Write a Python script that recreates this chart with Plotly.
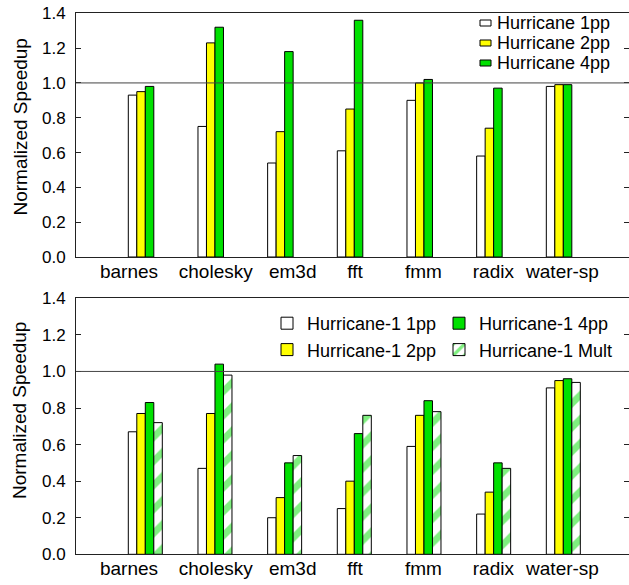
import plotly.graph_objects as go

# ---------------- data ----------------
categories = ["barnes", "cholesky", "em3d", "fft", "fmm", "radix", "water-sp"]

top_names = ["Hurricane 1pp", "Hurricane 2pp", "Hurricane 4pp"]
top_1pp = [0.93, 0.75, 0.54, 0.61, 0.90, 0.58, 0.98]
top_2pp = [0.95, 1.23, 0.72, 0.85, 1.00, 0.74, 0.99]
top_4pp = [0.98, 1.32, 1.18, 1.36, 1.02, 0.97, 0.99]

bot_names = ["Hurricane-1 1pp", "Hurricane-1 2pp", "Hurricane-1 4pp", "Hurricane-1 Mult"]
bot_1pp = [0.67, 0.47, 0.20, 0.25, 0.59, 0.22, 0.91]
bot_2pp = [0.77, 0.77, 0.31, 0.40, 0.76, 0.34, 0.95]
bot_4pp = [0.83, 1.04, 0.50, 0.66, 0.84, 0.50, 0.96]
bot_mult = [0.72, 0.98, 0.54, 0.76, 0.78, 0.47, 0.94]

y_ticks = [0.0, 0.2, 0.4, 0.6, 0.8, 1.0, 1.2, 1.4]
y_tick_labels = ["0.0", "0.2", "0.4", "0.6", "0.8", "1.0", "1.2", "1.4"]
y_title = "Normalized Speedup"
ref_value = 1.0

# ---------------- style / layout ----------------
W, H = 629, 585


def px(xp):  # window pixel x -> paper fraction
    return xp / W


def py(yp):  # window pixel y -> paper fraction
    return 1 - yp / H


FONT = "Liberation Sans, Arial, Helvetica, sans-serif"
WHITE, YELLOW, GREEN = "#ffffff", "#ffff00", "#00e000"
top_colors = [WHITE, YELLOW, GREEN]
BW = 0.122                       # bar width in group units
X_RANGE = [-0.7507, 7.1868]
label_pos = [0.01, 1.255, 2.36, 3.254, 4.235, 5.24, 6.232]  # tick label positions
idx = list(range(len(categories)))

fig = go.Figure()

top_series = [top_1pp, top_2pp, top_4pp]
for k, (name, vals) in enumerate(zip(top_names, top_series)):
    fig.add_trace(go.Bar(
        x=idx, y=vals, name=name, offset=k * BW, width=BW,
        marker=dict(color=top_colors[k], line=dict(color="black", width=1)),
        xaxis="x", yaxis="y", showlegend=False, hoverinfo="skip"))

bot_series = [bot_1pp, bot_2pp, bot_4pp, bot_mult]
bot_styles = [
    dict(color=WHITE, line=dict(color="black", width=1)),
    dict(color=YELLOW, line=dict(color="black", width=1)),
    dict(color=GREEN, line=dict(color="black", width=1)),
    dict(color=WHITE, line=dict(color="black", width=1),
         pattern=dict(shape="/", fgcolor=GREEN, bgcolor=WHITE, size=17, solidity=0.4)),
]
bot_legends = ["legend", "legend", "legend2", "legend2"]
for k, (name, vals) in enumerate(zip(bot_names, bot_series)):
    fig.add_trace(go.Bar(
        x=idx, y=vals, name=name, offset=k * BW, width=BW,
        marker=bot_styles[k], xaxis="x2", yaxis="y2",
        legend=bot_legends[k], hoverinfo="skip"))

xdom = [px(76), 1.0]
top_dom = [py(257), py(13.3)]
bot_dom = [py(554.3), py(298.3)]
AX = "#222222"

xcommon = dict(range=X_RANGE, domain=xdom, tickmode="array", tickvals=label_pos,
               ticktext=categories, ticks="", showline=True, linecolor=AX, linewidth=1,
               mirror=True, showgrid=False, zeroline=False, ticklabeloverflow="allow",
               tickfont=dict(size=19, color="black", family=FONT), ticklabelstandoff=-3)
ycommon = dict(range=[0, 1.4], tickmode="array", tickvals=y_ticks, ticktext=y_tick_labels,
               ticks="inside", ticklen=5, tickcolor=AX, showline=True, linecolor=AX,
               linewidth=1, mirror="ticks", showgrid=False, zeroline=False,
               ticklabeloverflow="allow",
               tickfont=dict(size=17, color="black", family=FONT), ticklabelstandoff=6)

fig.update_layout(
    width=W, height=H, margin=dict(l=0, r=0, t=0, b=0, autoexpand=False),
    paper_bgcolor="white", plot_bgcolor="white",
    barmode="overlay", font=dict(family=FONT, color="black"),
    xaxis=dict(anchor="y", **xcommon),
    xaxis2=dict(anchor="y2", **xcommon),
    yaxis=dict(anchor="x", domain=top_dom, **ycommon),
    yaxis2=dict(anchor="x2", domain=bot_dom, **ycommon),
    legend=dict(x=px(267), y=py(305), xanchor="left", yanchor="top",
                bgcolor="rgba(0,0,0,0)", font=dict(size=18, family=FONT),
                itemwidth=30, tracegroupgap=0),
    legend2=dict(x=px(439), y=py(305), xanchor="left", yanchor="top",
                 bgcolor="rgba(0,0,0,0)", font=dict(size=18, family=FONT),
                 itemwidth=30, tracegroupgap=0),
)

# reference line at 1.0
for yref in ["y", "y2"]:
    fig.add_shape(type="line", xref="x domain" if yref == "y" else "x2 domain",
                  yref=yref, x0=0, x1=1, y0=ref_value, y1=ref_value,
                  line=dict(color="#444444", width=1), layer="above")

# y titles
for ycen in [py(127.5), py(411)]:
    fig.add_annotation(text=y_title, textangle=-90, xref="paper", yref="paper",
                       x=px(20), y=ycen, xanchor="center", yanchor="middle",
                       showarrow=False, font=dict(size=19, family=FONT, color="black"))

# top legend (compact rows)
row_y = [23, 43, 63]
for k, name in enumerate(top_names):
    yc = row_y[k]
    fig.add_shape(type="rect", xref="paper", yref="paper",
                  x0=px(480), x1=px(491), y0=py(yc + 3), y1=py(yc - 3),
                  fillcolor=top_colors[k], line=dict(color="black", width=1))
    fig.add_annotation(text=name, xref="paper", yref="paper", x=px(495), y=py(yc),
                       xanchor="left", yanchor="middle", showarrow=False,
                       font=dict(size=18, family=FONT, color="black"))

# remove the default 8px page margin so the figure fills the window exactly
fig.write_html("out.html", config={"displayModeBar": False},
               post_script="document.body.style.margin='0';document.body.style.overflow='hidden';")
